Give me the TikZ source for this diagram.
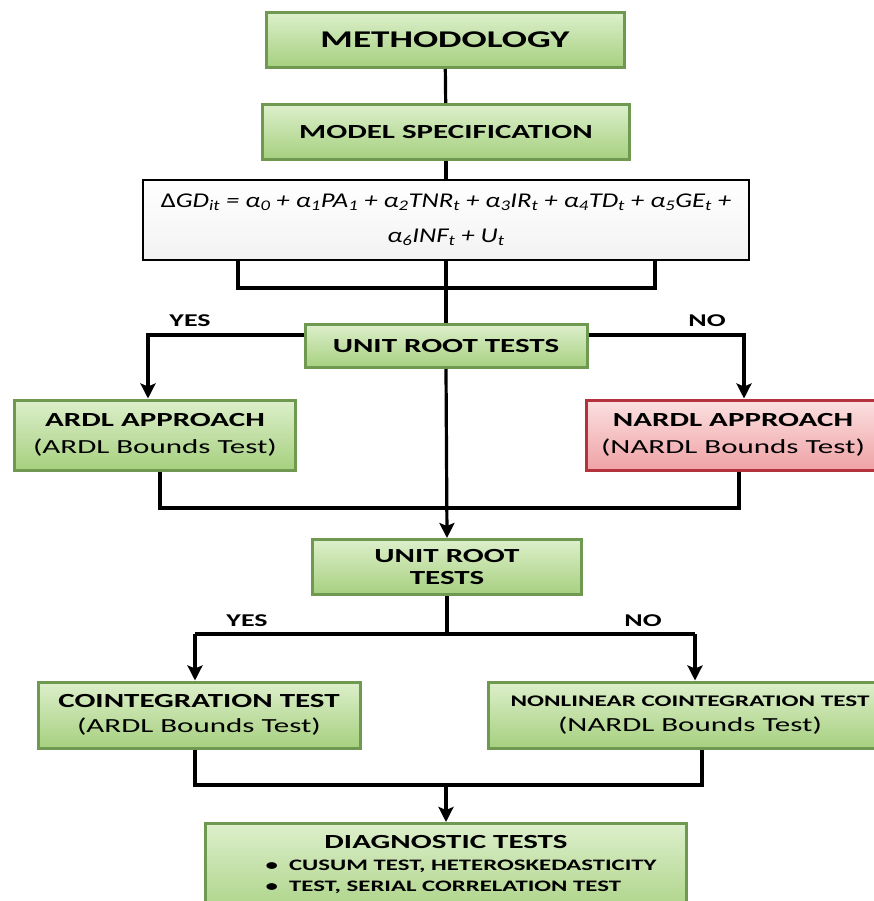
\documentclass[tikz,border=0pt]{standalone}
\usepackage{fontspec}
\usepackage{graphicx}
\setmainfont[FakeStretch=1.55]{Carlito}
\newfontfamily\eqfont[FakeStretch=1.27]{Carlito}
\newcommand{\sbs}[1]{\textsubscript{#1}}
\usetikzlibrary{arrows.meta,positioning}

\definecolor{greentop}{HTML}{DDEFCB}
\definecolor{greenbot}{HTML}{A6D07F}
\definecolor{edgegreen}{HTML}{6F9850}
\definecolor{redtop}{HTML}{FBE0E0}
\definecolor{redbot}{HTML}{EFA2A6}
\definecolor{edgered}{HTML}{B3323B}

\tikzset{
  gbox/.style={draw=edgegreen, line width=3pt, top color=greentop, bottom color=greenbot,
    align=center, inner sep=0pt, font=\bfseries\fontsize{20}{27}\selectfont},
  rbox/.style={gbox, draw=edgered, top color=redtop, bottom color=redbot},
  eqbox/.style={draw=black, line width=2.2pt, top color=white, bottom color=black!5, align=center, inner sep=0pt},
  link/.style={line width=3.2pt},
  arr/.style={link, -{Stealth[length=15pt,width=15pt,inset=3pt]}},
  lbl/.style={font=\bfseries\fontsize{18}{18}\selectfont},
}

\begin{document}
\begin{tikzpicture}[x=1pt,y=-1pt]
  \useasboundingbox (0,0) rectangle (874,901);
  \clip (0,0) rectangle (874,901);

  % Boxes
  \node[gbox, minimum width=358pt, minimum height=55pt, font=\bfseries\fontsize{24}{24}\selectfont] (meth) at (445,40) {METHODOLOGY};
  \node[gbox, minimum width=367pt, minimum height=55pt] (spec) at (446,132) {MODEL SPECIFICATION};
  \node[eqbox, minimum width=606pt, minimum height=80pt, font=\eqfont\itshape\fontsize{21}{35}\selectfont] (eq) at (446,220)
    {{\upshape Δ}GD\sbs{it} = α\sbs{0} + α\sbs{1}PA\sbs{1} + α\sbs{2}TNR\sbs{t} + α\sbs{3}IR\sbs{t} + α\sbs{4}TD\sbs{t} + α\sbs{5}GE\sbs{t} +\\
     α\sbs{6}INF\sbs{t} + U\sbs{t}};
  \node[gbox, minimum width=282pt, minimum height=43pt] (urt) at (446,346) {UNIT ROOT TESTS};
  \node[gbox, minimum width=281pt, minimum height=70pt] (ardl) at (155,435) {ARDL APPROACH\\{\mdseries (ARDL Bounds Test)}};
  \node[rbox, minimum width=294pt, minimum height=70pt] (nardl) at (733,435) {NARDL APPROACH\\{\mdseries (NARDL Bounds Test)}};
  \node[gbox, minimum width=269pt, minimum height=55pt, font=\bfseries\fontsize{20}{22}\selectfont] (urt2) at (447,567) {UNIT ROOT\\TESTS};
  \node[gbox, minimum width=322pt, minimum height=66pt, font=\bfseries\fontsize{20}{25}\selectfont] (coint) at (199,715) {COINTEGRATION TEST\\{\mdseries (ARDL Bounds Test)}};
  \node[gbox, minimum width=404pt, minimum height=66pt, font=\bfseries\fontsize{16.2}{25}\selectfont] (nlcoint) at (690,715) {NONLINEAR COINTEGRATION TEST\\{\mdseries\fontsize{20}{25}\selectfont (NARDL Bounds Test)}};
  \node[gbox, minimum width=481pt, minimum height=100pt, anchor=north] (diag) at (446,822) {};
  \node[font=\bfseries\fontsize{20}{20}\selectfont] (diagt) at (446,842) {DIAGNOSTIC TESTS};
  \node[font=\bfseries\fontsize{16}{21}\selectfont, align=left, anchor=north west] (diagl) at (262,856)
    {\textbullet\ \ CUSUM TEST, HETEROSKEDASTICITY\\ \textbullet\ \ TEST, SERIAL CORRELATION TEST};

  % Branch points
  \coordinate (b1l) at (238,288);
  \coordinate (b1r) at (655,288);
  \coordinate (yl) at (148,335);
  \coordinate (yr) at (744,335);
  \coordinate (b2l) at (160,508);
  \coordinate (b2r) at (739,508);
  \coordinate (cl) at (195,634);
  \coordinate (cr) at (695,634);
  \coordinate (b3l) at (195,785);
  \coordinate (b3r) at (702,785);
  \coordinate (b3m) at (446,785);

  % Connectors
  \draw[link] (meth) -- (spec);
  \draw[link] (spec) -- (eq);
  \draw[link] (eq.south -| b1l) -- (b1l) -- (b1r) -- (eq.south -| b1r);
  \draw[link] (eq.south) -- (urt.north);
  \draw[arr] (urt.west |- yl) -- (yl) -- (yl |- ardl.north);
  \draw[arr] (urt.east |- yr) -- (yr) -- (yr |- nardl.north);
  \draw[link] (ardl.south -| b2l) -- (b2l) -- (b2r) -- (nardl.south -| b2r);
  \draw[arr] (urt.south) -- (urt2.north);
  \draw[link] (urt2.south) -- (urt2.south |- cl);
  \draw[arr] (cl) -- (cl |- coint.north);
  \draw[link] (cl) -- (cr);
  \draw[arr] (cr) -- (cr |- nlcoint.north);
  \draw[link] (coint.south -| b3l) -- (b3l) -- (b3r) -- (nlcoint.south -| b3r);
  \draw[arr] (b3m) -- (diag.north);

  % Labels
  \node[lbl] (yes1) at (190,321) {YES};
  \node[lbl] (no1) at (707,321) {NO};
  \node[lbl] (yes2) at (247,621) {YES};
  \node[lbl] (no2) at (643,621) {NO};
\end{tikzpicture}
\end{document}
